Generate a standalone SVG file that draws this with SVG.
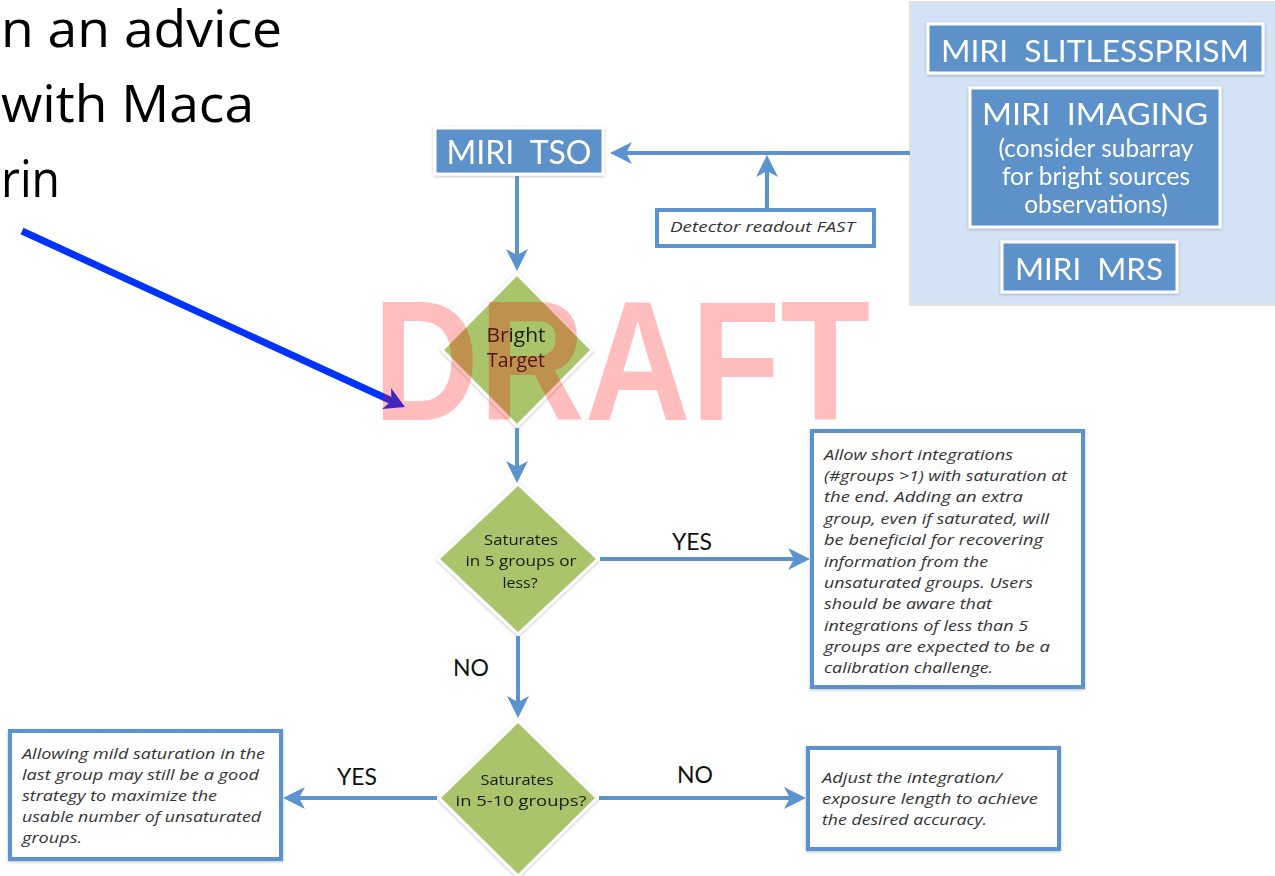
<svg xmlns="http://www.w3.org/2000/svg" width="1275" height="876" viewBox="0 0 1275 876">
<style>
.big{font-family:"Open Sans","Liberation Sans",sans-serif;font-size:52px;fill:#000}
.hdr{font-family:Lato,"Liberation Sans",sans-serif;fill:#fff;text-anchor:middle;white-space:pre}
.dia{font-family:"Open Sans","Liberation Sans",sans-serif;fill:#1a1a1a;text-anchor:middle}
.note{font-family:"Open Sans","Liberation Sans",sans-serif;font-style:italic;font-size:15px;fill:#333}
.lbl{font-family:Lato,"Liberation Sans",sans-serif;font-size:23px;fill:#111;text-anchor:middle}
.bluebox{fill:#5b92c9;stroke:#fff;stroke-width:3}
.diamond{fill:#a9c46a;stroke:#fff;stroke-width:3}
.tbox{fill:#fff;stroke:#5b93cf;stroke-width:4}
.conn{stroke:#5b93cf;stroke-width:4;fill:none}
</style>
<defs>
<marker id="ah" viewBox="0 0 22 22" refX="12" refY="11" markerWidth="22" markerHeight="22" markerUnits="userSpaceOnUse" orient="auto">
<path d="M22,11 L0,0 L6,11 L0,22 Z" fill="#5b93cf"/>
</marker>
<filter id="sh" x="-10%" y="-10%" width="120%" height="120%">
<feDropShadow dx="0" dy="1" stdDeviation="1.5" flood-color="#000" flood-opacity="0.25"/>
</filter>
</defs>
<rect width="1275" height="876" fill="#fff"/>

<g id="caption">
<text class="big" x="1" y="47" textLength="281" lengthAdjust="spacingAndGlyphs">n an advice</text>
<text class="big" x="1" y="122" textLength="253" lengthAdjust="spacingAndGlyphs">with Maca</text>
<text class="big" x="1" y="197" textLength="59" lengthAdjust="spacingAndGlyphs">rin</text>
</g>

<g id="panel">
<rect x="910" y="2" width="370" height="303" fill="#d4e2f5" stroke="#e2e2e2" stroke-width="2"/>
</g>

<g id="slitless" filter="url(#sh)">
<rect class="bluebox" x="928" y="24" width="335" height="49"/>
<text class="hdr" x="1095" y="62" font-size="30" textLength="308" lengthAdjust="spacingAndGlyphs">MIRI  SLITLESSPRISM</text>
</g>
<g id="imaging" filter="url(#sh)">
<rect class="bluebox" x="970" y="88" width="250" height="139"/>
<text class="hdr" x="1095" y="125" font-size="30" textLength="226" lengthAdjust="spacingAndGlyphs">MIRI  IMAGING</text>
<text class="hdr" x="1096" y="157" font-size="24.5">(consider subarray</text>
<text class="hdr" x="1096" y="185" font-size="24.5">for bright sources</text>
<text class="hdr" x="1096" y="213" font-size="24.5">observations)</text>
</g>
<g id="mrs" filter="url(#sh)">
<rect class="bluebox" x="1002" y="242" width="175" height="50"/>
<text class="hdr" x="1089" y="280" font-size="30" textLength="148" lengthAdjust="spacingAndGlyphs">MIRI  MRS</text>
</g>

<g id="tso" filter="url(#sh)">
<rect class="bluebox" x="435" y="128" width="168" height="46"/>
<text class="hdr" x="519" y="164" font-size="32" textLength="145" lengthAdjust="spacingAndGlyphs">MIRI  TSO</text>
</g>

<g id="detector">
<rect class="tbox" x="657" y="210" width="217" height="36"/>
<text class="note" x="670" y="232" textLength="185" lengthAdjust="spacingAndGlyphs">Detector readout FAST</text>
</g>

<g id="bright" filter="url(#sh)">
<polygon class="diamond" points="517,274 592,350 517,426 442,350"/>
<text class="dia" x="516" y="342" font-size="20" textLength="59" lengthAdjust="spacingAndGlyphs">Bright</text>
<text class="dia" x="516" y="367" font-size="20" textLength="58" lengthAdjust="spacingAndGlyphs">Target</text>
</g>

<g id="sat1" filter="url(#sh)">
<polygon class="diamond" points="518,484 598,559 518,634 438,559"/>
<text class="dia" x="521" y="545" font-size="15" textLength="74" lengthAdjust="spacingAndGlyphs">Saturates</text>
<text class="dia" x="521" y="566" font-size="15" textLength="111" lengthAdjust="spacingAndGlyphs">in 5 groups or</text>
<text class="dia" x="520" y="588" font-size="15" textLength="35" lengthAdjust="spacingAndGlyphs">less?</text>
</g>

<g id="sat2" filter="url(#sh)">
<polygon class="diamond" points="518,721 597,798 518,876 439,798"/>
<text class="dia" x="517" y="785" font-size="15" textLength="73" lengthAdjust="spacingAndGlyphs">Saturates</text>
<text class="dia" x="521" y="806" font-size="15" textLength="131" lengthAdjust="spacingAndGlyphs">in 5-10 groups?</text>
</g>

<g id="allow">
<rect class="tbox" x="812" y="431" width="271" height="256" filter="url(#sh)"/>
<text class="note" x="824" y="460" textLength="189" lengthAdjust="spacingAndGlyphs">Allow short integrations</text>
<text class="note" x="824" y="481" textLength="243" lengthAdjust="spacingAndGlyphs">(#groups &gt;1) with saturation at</text>
<text class="note" x="824" y="502" textLength="199" lengthAdjust="spacingAndGlyphs">the end. Adding an extra</text>
<text class="note" x="824" y="524" textLength="225" lengthAdjust="spacingAndGlyphs">group, even if saturated, will</text>
<text class="note" x="824" y="545" textLength="219" lengthAdjust="spacingAndGlyphs">be beneficial for recovering</text>
<text class="note" x="824" y="567" textLength="164" lengthAdjust="spacingAndGlyphs">information from the</text>
<text class="note" x="824" y="588" textLength="209" lengthAdjust="spacingAndGlyphs">unsaturated groups. Users</text>
<text class="note" x="824" y="609" textLength="168" lengthAdjust="spacingAndGlyphs">should be aware that</text>
<text class="note" x="824" y="631" textLength="204" lengthAdjust="spacingAndGlyphs">integrations of less than 5</text>
<text class="note" x="824" y="652" textLength="226" lengthAdjust="spacingAndGlyphs">groups are expected to be a</text>
<text class="note" x="824" y="673" textLength="169" lengthAdjust="spacingAndGlyphs">calibration challenge.</text>
</g>

<g id="mild">
<rect class="tbox" x="10" y="731" width="271" height="128" filter="url(#sh)"/>
<text class="note" x="22" y="759" textLength="243" lengthAdjust="spacingAndGlyphs">Allowing mild saturation in the</text>
<text class="note" x="22" y="780" textLength="237" lengthAdjust="spacingAndGlyphs">last group may still be a good</text>
<text class="note" x="22" y="801" textLength="195" lengthAdjust="spacingAndGlyphs">strategy to maximize the</text>
<text class="note" x="22" y="822" textLength="239" lengthAdjust="spacingAndGlyphs">usable number of unsaturated</text>
<text class="note" x="22" y="843" textLength="60" lengthAdjust="spacingAndGlyphs">groups.</text>
</g>

<g id="adjust">
<rect class="tbox" x="808" y="748" width="251" height="101" filter="url(#sh)"/>
<text class="note" x="822" y="783" textLength="180" lengthAdjust="spacingAndGlyphs">Adjust the integration/</text>
<text class="note" x="822" y="804" textLength="216" lengthAdjust="spacingAndGlyphs">exposure length to achieve</text>
<text class="note" x="822" y="825" textLength="165" lengthAdjust="spacingAndGlyphs">the desired accuracy.</text>
</g>

<g id="connectors">
<line class="conn" x1="910" y1="153" x2="620" y2="153" marker-end="url(#ah)"/>
<line class="conn" x1="767" y1="208" x2="767" y2="165" marker-end="url(#ah)"/>
<line class="conn" x1="517" y1="176" x2="517" y2="261" marker-end="url(#ah)"/>
<line class="conn" x1="517" y1="428" x2="517" y2="473" marker-end="url(#ah)"/>
<line class="conn" x1="600" y1="559" x2="800" y2="559" marker-end="url(#ah)"/>
<line class="conn" x1="518" y1="636" x2="518" y2="708" marker-end="url(#ah)"/>
<line class="conn" x1="437" y1="798" x2="293" y2="798" marker-end="url(#ah)"/>
<line class="conn" x1="599" y1="798" x2="796" y2="798" marker-end="url(#ah)"/>
<text class="lbl" x="692" y="550">YES</text>
<text class="lbl" x="471" y="676">NO</text>
<text class="lbl" x="357" y="785">YES</text>
<text class="lbl" x="695" y="783">NO</text>
</g>

<g id="pointer">
<line x1="22" y1="231" x2="392" y2="401" stroke="#0033ff" stroke-width="7"/>
<polygon points="405,407 391,388 391.5,401 382,409" fill="#0033ff"/>
</g>

<g id="watermark">
<text x="373" y="420" font-family="'Liberation Sans',Arial,sans-serif" font-weight="bold" font-size="170" fill="#ff0000" fill-opacity="0.26" textLength="497" lengthAdjust="spacingAndGlyphs">DRAFT</text>
</g>
</svg>
